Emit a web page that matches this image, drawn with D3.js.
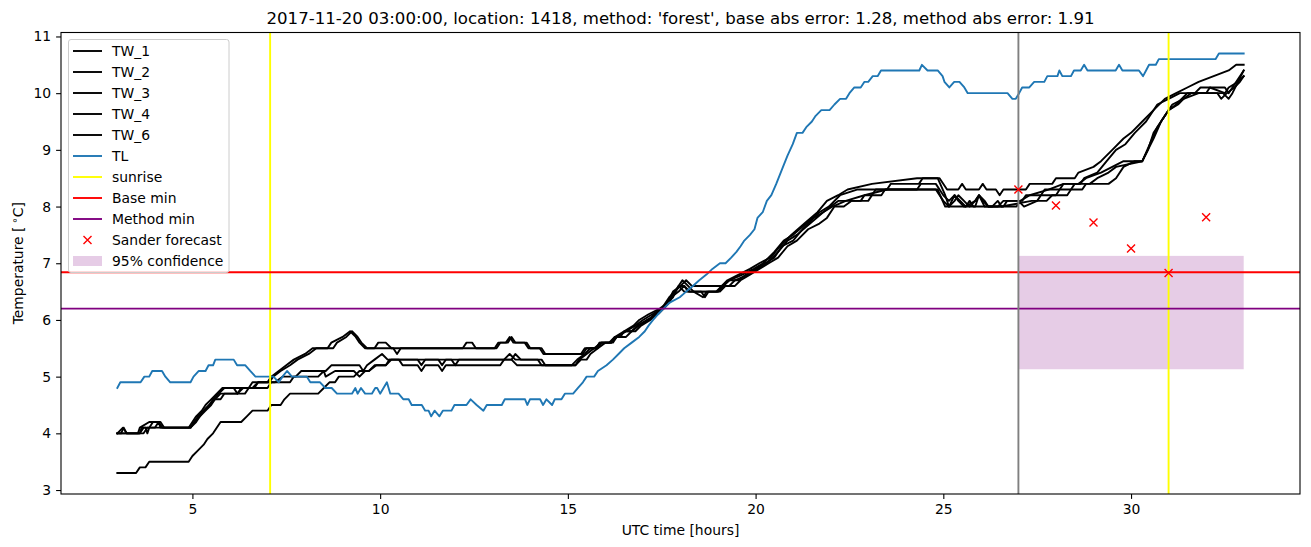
<!DOCTYPE html>
<html>
<head>
<meta charset="utf-8">
<script src="https://cdn.jsdelivr.net/npm/d3@7"></script>
<style>
  body { margin: 0; background: #fff; }
  svg { display: block; font-family: "DejaVu Sans", sans-serif; }
</style>
</head>
<body>
<svg id="chart" width="1311" height="547"></svg>
<script>
// ---------------- DATA ----------------
const titleText = "2017-11-20 03:00:00, location: 1418, method: 'forest', base abs error: 1.28, method abs error: 1.91";
const xTicks = [5, 10, 15, 20, 25, 30];
const yTicks = [3, 4, 5, 6, 7, 8, 9, 10, 11];

const TW_1 = [[3.0,4.0],[3.15,4.1],[3.25,4.0],[3.55,4.0],[3.6,4.1],[3.85,4.2],[4.1,4.2],[4.2,4.1],[4.9,4.1],[5.0,4.2],[5.1,4.3],[5.25,4.4],[5.35,4.5],[5.5,4.6],[5.65,4.7],[5.8,4.8],[6.5,4.8],[6.6,4.9],[7.0,4.9],[7.1,5.0],[7.3,5.1],[7.5,5.2],[7.7,5.3],[8.0,5.4],[8.2,5.5],[8.6,5.5],[8.7,5.6],[9.0,5.7],[9.2,5.8],[9.35,5.7],[9.45,5.6],[9.6,5.5],[9.85,5.5],[9.95,5.6],[10.15,5.6],[10.3,5.5],[12.2,5.5],[12.3,5.6],[12.45,5.6],[12.55,5.5],[13.05,5.5],[13.15,5.6],[13.35,5.6],[13.45,5.7],[13.55,5.6],[13.85,5.6],[13.95,5.5],[14.25,5.5],[14.35,5.4],[15.35,5.4],[15.45,5.5],[15.75,5.5],[15.85,5.6],[16.1,5.6],[16.25,5.7],[16.5,5.8],[16.75,5.9],[16.9,6.0],[17.15,6.1],[17.45,6.2],[17.65,6.3],[17.8,6.5],[18.0,6.6],[18.15,6.7],[18.3,6.6],[19.1,6.6],[19.25,6.7],[19.55,6.8],[19.85,6.9],[20.1,7.0],[20.4,7.1],[20.65,7.3],[20.95,7.5],[21.3,7.7],[21.65,7.9],[21.9,8.1],[22.2,8.2],[22.45,8.3],[23.1,8.4],[24.3,8.5],[24.9,8.5],[25.1,8.3],[25.4,8.3],[25.5,8.4],[25.6,8.3],[25.95,8.3],[26.05,8.4],[26.15,8.3],[26.4,8.3],[26.5,8.2],[26.6,8.3],[27.2,8.3],[27.3,8.4],[27.9,8.4],[28.0,8.5],[28.5,8.5],[28.6,8.6],[29.0,8.7],[29.2,8.8],[29.5,9.0],[29.8,9.2],[30.0,9.3],[30.3,9.5],[30.6,9.7],[30.9,9.9],[31.2,10.0],[31.5,10.1],[31.8,10.2],[32.2,10.3],[32.6,10.4],[32.8,10.5],[33.0,10.5]];
const TW_2 = [[3.0,4.0],[3.6,4.0],[3.7,4.1],[3.85,4.1],[3.95,4.2],[4.15,4.2],[4.25,4.1],[4.95,4.1],[5.05,4.2],[5.2,4.3],[5.3,4.4],[5.45,4.5],[5.55,4.6],[5.7,4.7],[5.85,4.8],[6.1,4.8],[6.2,4.7],[6.3,4.8],[6.65,4.8],[6.75,4.9],[7.05,4.9],[7.15,5.0],[7.35,5.1],[7.6,5.2],[7.8,5.3],[8.1,5.4],[8.3,5.5],[8.75,5.5],[8.85,5.6],[9.1,5.7],[9.25,5.8],[9.4,5.7],[9.5,5.6],[9.65,5.5],[10.35,5.5],[10.45,5.4],[10.55,5.5],[13.1,5.5],[13.2,5.6],[13.4,5.6],[13.5,5.7],[13.6,5.6],[13.9,5.6],[14.0,5.5],[14.3,5.5],[14.4,5.4],[15.4,5.4],[15.5,5.5],[15.8,5.5],[15.9,5.6],[16.15,5.6],[16.3,5.7],[16.55,5.8],[16.8,5.9],[17.0,6.0],[17.25,6.1],[17.5,6.2],[17.7,6.4],[17.85,6.5],[18.05,6.7],[18.2,6.6],[18.35,6.5],[18.6,6.4],[18.7,6.5],[19.0,6.5],[19.15,6.6],[19.3,6.7],[19.65,6.8],[19.95,6.9],[20.2,7.0],[20.5,7.2],[20.75,7.4],[21.0,7.5],[21.35,7.7],[21.7,7.9],[21.95,8.0],[22.25,8.2],[22.7,8.3],[23.5,8.3],[23.6,8.4],[24.35,8.4],[24.45,8.5],[24.85,8.5],[25.05,8.2],[25.15,8.0],[25.3,8.1],[25.4,8.2],[25.55,8.1],[25.7,8.0],[25.85,8.1],[25.95,8.2],[26.1,8.1],[26.2,8.0],[26.6,8.0],[26.7,8.1],[27.1,8.1],[27.2,8.2],[27.6,8.2],[27.7,8.3],[28.1,8.3],[28.2,8.4],[28.65,8.4],[28.75,8.5],[29.1,8.6],[29.35,8.8],[29.6,9.0],[29.85,9.1],[30.1,9.3],[30.4,9.5],[30.7,9.8],[31.0,9.9],[31.3,10.0],[31.7,10.0],[31.85,10.1],[32.5,10.1],[32.6,10.0],[32.7,10.1],[32.9,10.3],[33.0,10.4]];
const TW_3 = [[3.0,4.0],[3.1,4.0],[3.17,4.1],[3.25,4.0],[3.7,4.0],[3.8,4.1],[4.0,4.1],[4.1,4.2],[4.15,4.1],[4.95,4.1],[5.05,4.2],[5.15,4.3],[5.3,4.4],[5.45,4.5],[5.6,4.6],[5.75,4.7],[6.2,4.7],[6.35,4.8],[6.6,4.8],[6.75,4.9],[7.2,4.9],[7.4,5.0],[7.75,5.0],[7.9,5.1],[8.55,5.1],[8.7,5.2],[9.45,5.2],[9.55,5.1],[9.65,5.2],[9.85,5.3],[10.05,5.4],[10.2,5.3],[11.0,5.3],[11.1,5.2],[11.2,5.3],[11.55,5.3],[11.65,5.2],[11.75,5.3],[13.3,5.3],[13.45,5.4],[13.6,5.3],[14.3,5.3],[14.4,5.2],[15.2,5.2],[15.3,5.3],[15.5,5.4],[15.7,5.5],[15.9,5.6],[16.2,5.6],[16.3,5.7],[16.55,5.8],[16.7,5.8],[16.85,5.9],[17.1,6.0],[17.4,6.1],[17.55,6.2],[17.75,6.4],[17.95,6.5],[18.1,6.6],[18.25,6.5],[19.0,6.5],[19.1,6.6],[19.3,6.6],[19.45,6.7],[19.8,6.8],[20.05,6.9],[20.3,7.0],[20.6,7.2],[20.85,7.4],[21.1,7.5],[21.45,7.7],[21.8,7.9],[22.05,8.0],[22.4,8.1],[22.9,8.2],[23.5,8.3],[24.8,8.3],[25.0,8.1],[25.15,8.0],[25.3,8.2],[25.4,8.1],[25.55,8.0],[25.85,8.0],[25.95,8.2],[26.05,8.1],[26.2,8.0],[26.95,8.0],[27.05,8.1],[27.3,8.2],[27.8,8.3],[28.2,8.4],[28.6,8.4],[28.8,8.5],[29.2,8.6],[29.5,8.7],[29.8,8.8],[30.3,8.8],[30.5,9.1],[30.7,9.4],[30.9,9.6],[31.1,9.8],[31.4,9.9],[31.8,10.0],[32.0,10.0],[32.1,10.1],[32.5,10.0],[32.6,10.1],[32.85,10.2],[33.0,10.3]];
const TW_4 = [[3.0,4.0],[3.6,4.0],[3.65,4.1],[3.75,4.1],[3.8,4.0],[3.85,4.1],[4.95,4.1],[5.1,4.2],[5.2,4.3],[5.35,4.4],[5.5,4.5],[5.6,4.6],[5.75,4.6],[5.85,4.7],[6.4,4.7],[6.5,4.8],[7.0,4.8],[7.1,4.9],[7.6,4.9],[7.7,5.0],[8.35,5.0],[8.5,5.1],[8.55,5.0],[8.8,5.1],[9.3,5.1],[9.45,5.0],[9.6,5.1],[9.7,5.1],[9.9,5.2],[10.15,5.2],[10.3,5.3],[10.5,5.3],[10.6,5.2],[11.0,5.2],[11.1,5.1],[11.2,5.2],[11.55,5.2],[11.65,5.1],[11.75,5.2],[13.2,5.2],[13.3,5.3],[13.5,5.3],[13.65,5.2],[15.1,5.2],[15.25,5.3],[15.45,5.4],[15.6,5.5],[15.75,5.5],[15.85,5.6],[16.15,5.6],[16.25,5.7],[16.4,5.7],[16.5,5.8],[16.8,5.8],[16.95,5.9],[17.2,6.0],[17.35,6.1],[17.55,6.2],[17.7,6.3],[17.85,6.5],[18.0,6.6],[18.1,6.6],[18.2,6.5],[18.55,6.5],[18.65,6.4],[18.75,6.5],[19.05,6.5],[19.2,6.6],[19.45,6.6],[19.6,6.7],[19.85,6.8],[20.1,6.9],[20.35,7.0],[20.6,7.1],[20.85,7.3],[21.1,7.4],[21.4,7.6],[21.7,7.7],[21.9,7.8],[22.1,8.0],[22.35,8.0],[22.55,8.1],[23.0,8.1],[23.2,8.3],[24.3,8.3],[24.4,8.4],[24.8,8.4],[25.0,8.2],[25.15,8.1],[25.3,8.2],[25.45,8.1],[25.6,8.0],[25.85,8.1],[25.95,8.2],[26.1,8.0],[26.45,8.0],[26.6,8.1],[27.0,8.1],[27.15,8.0],[27.5,8.1],[27.6,8.2],[28.0,8.2],[28.1,8.3],[28.4,8.3],[28.5,8.4],[28.9,8.4],[29.1,8.5],[29.4,8.6],[29.6,8.7],[30.3,8.8],[30.45,9.0],[30.6,9.3],[30.8,9.5],[31.0,9.7],[31.25,9.8],[31.4,9.9],[31.6,10.0],[32.3,10.0],[32.4,9.9],[32.55,10.0],[32.75,10.1],[32.9,10.2],[33.0,10.3]];
const TW_6 = [[3.0,3.3],[3.5,3.3],[3.6,3.4],[3.75,3.4],[3.85,3.5],[4.9,3.5],[5.0,3.6],[5.15,3.7],[5.3,3.8],[5.4,3.9],[5.55,4.0],[5.75,4.2],[6.3,4.2],[6.45,4.3],[6.6,4.4],[7.0,4.4],[7.1,4.5],[7.35,4.5],[7.45,4.6],[7.6,4.7],[8.35,4.7],[8.5,4.8],[8.65,4.9],[8.8,4.9],[8.9,5.0],[9.3,5.0],[9.45,5.1],[9.7,5.1],[9.85,5.2],[10.15,5.2],[10.25,5.3],[11.9,5.3],[12.0,5.2],[12.1,5.3],[13.5,5.3],[13.6,5.4],[13.75,5.3],[14.2,5.3],[14.3,5.2],[15.2,5.2],[15.35,5.3],[15.5,5.3],[15.6,5.4],[15.8,5.5],[16.0,5.6],[16.15,5.6],[16.3,5.7],[16.55,5.7],[16.7,5.8],[16.9,5.9],[17.15,6.0],[17.3,6.1],[17.5,6.2],[17.65,6.3],[17.8,6.4],[17.95,6.6],[18.1,6.5],[18.95,6.5],[19.1,6.6],[19.3,6.7],[19.55,6.7],[19.75,6.8],[20.0,6.9],[20.25,7.0],[20.5,7.1],[20.7,7.3],[21.0,7.4],[21.25,7.6],[21.55,7.8],[21.8,7.9],[22.0,8.0],[22.2,8.1],[22.8,8.1],[22.9,8.2],[23.35,8.2],[23.45,8.3],[24.85,8.3],[25.05,8.0],[25.6,8.0],[25.7,8.1],[25.8,8.0],[26.3,8.0],[26.45,8.1],[26.55,8.0],[27.35,8.1],[27.75,8.1],[27.9,8.2],[28.3,8.2],[28.4,8.3],[28.7,8.3],[28.8,8.4],[29.4,8.4],[29.6,8.5],[29.8,8.7],[30.1,8.8],[30.3,8.8],[30.45,9.0],[30.6,9.2],[30.8,9.5],[31.0,9.7],[31.2,9.8],[31.5,10.0],[32.45,10.0],[32.6,9.9],[32.7,10.0],[32.85,10.2],[33.0,10.4]];
const TL = [[3.0,4.8],[3.08,4.9],[3.62,4.9],[3.72,5.0],[3.85,5.0],[3.93,5.1],[4.19,5.1],[4.28,5.0],[4.41,4.9],[4.95,4.9],[5.03,5.0],[5.17,5.1],[5.35,5.1],[5.43,5.2],[5.55,5.2],[5.61,5.3],[6.1,5.3],[6.19,5.2],[6.41,5.2],[6.54,5.1],[6.68,5.0],[7.16,5.0],[7.3,4.9],[7.4,5.0],[7.52,5.1],[7.65,5.0],[8.05,5.0],[8.14,4.9],[8.4,4.9],[8.54,4.8],[8.71,4.8],[8.85,4.7],[9.25,4.7],[9.34,4.8],[9.4,4.7],[9.49,4.8],[9.6,4.7],[9.78,4.7],[9.87,4.8],[9.92,4.8],[10.0,4.7],[10.18,4.9],[10.27,4.7],[10.49,4.7],[10.62,4.6],[10.76,4.6],[10.84,4.5],[11.11,4.5],[11.2,4.4],[11.29,4.4],[11.36,4.3],[11.45,4.4],[11.58,4.3],[11.67,4.4],[11.9,4.4],[11.98,4.5],[12.3,4.5],[12.41,4.6],[12.57,4.5],[12.75,4.4],[12.84,4.5],[13.24,4.5],[13.32,4.6],[13.86,4.6],[13.92,4.5],[13.99,4.6],[14.26,4.6],[14.34,4.5],[14.43,4.6],[14.58,4.5],[14.65,4.6],[14.83,4.6],[14.92,4.7],[15.14,4.7],[15.27,4.8],[15.4,4.9],[15.5,5.0],[15.7,5.0],[15.8,5.1],[16.03,5.2],[16.2,5.3],[16.35,5.4],[16.5,5.5],[16.7,5.6],[16.9,5.7],[17.05,5.8],[17.15,5.9],[17.27,6.0],[17.4,6.1],[17.55,6.2],[17.7,6.3],[17.98,6.4],[18.15,6.5],[18.33,6.6],[18.5,6.7],[18.69,6.8],[18.85,6.9],[19.05,7.0],[19.2,7.0],[19.35,7.1],[19.49,7.2],[19.6,7.3],[19.7,7.4],[19.85,7.5],[19.97,7.6],[20.05,7.8],[20.19,7.9],[20.3,8.1],[20.42,8.2],[20.55,8.4],[20.73,8.7],[20.85,8.9],[20.99,9.1],[21.1,9.3],[21.25,9.3],[21.35,9.4],[21.5,9.5],[21.6,9.6],[21.75,9.7],[21.97,9.7],[22.1,9.8],[22.25,9.9],[22.41,9.9],[22.5,10.0],[22.63,10.1],[22.8,10.1],[22.9,10.2],[23.0,10.2],[23.12,10.3],[23.25,10.3],[23.34,10.4],[24.36,10.4],[24.43,10.5],[24.58,10.4],[24.85,10.4],[24.98,10.3],[25.03,10.2],[25.16,10.1],[25.29,10.2],[25.43,10.2],[25.56,10.1],[25.65,10.0],[26.71,10.0],[26.84,9.9],[26.93,9.9],[27.02,10.0],[27.1,10.1],[27.29,10.1],[27.42,10.2],[27.69,10.2],[27.77,10.3],[28.04,10.3],[28.09,10.4],[28.17,10.3],[28.4,10.3],[28.48,10.4],[28.66,10.4],[28.75,10.5],[28.84,10.4],[29.59,10.4],[29.68,10.5],[29.77,10.4],[30.21,10.4],[30.32,10.3],[30.4,10.4],[30.48,10.5],[30.66,10.5],[30.74,10.6],[32.25,10.6],[32.34,10.7],[33.0,10.7]];

const twSeries = [["TW_1", TW_1], ["TW_2", TW_2], ["TW_3", TW_3], ["TW_4", TW_4], ["TW_6", TW_6]];
const sunriseHours = [7.07, 31.0];
const forecastStartHour = 27.0;
const baseMin = 6.84;
const methodMin = 6.2;
const forecastHours = [27, 28, 29, 30, 31, 32];
const forecastValues = [8.30, 8.02, 7.72, 7.26, 6.83, 7.81];
const confHours = [27, 33];
const confLow = 5.13;
const confHigh = 7.13;

// ---------------- LAYOUT ----------------
const svg = d3.select("#chart");
const L = 61, R = 1300, T = 32.5, B = 494;
const x = d3.scaleLinear().domain([1.5, 34.5]).range([L, R]);
const y = d3.scaleLinear().domain([2.93, 11.07]).range([B, T]);

const C_TL = "#1f77b4", C_SUN = "#ffff00", C_BASE = "#ff0000", C_METH = "#800080";
const LW = 1.9;
const FS = "13.9px";

svg.append("rect").attr("width", 1311).attr("height", 547).attr("fill", "#fff");

svg.append("defs").append("clipPath").attr("id", "clip")
  .append("rect").attr("x", L).attr("y", T).attr("width", R - L).attr("height", B - T);
const g = svg.append("g").attr("clip-path", "url(#clip)");

// confidence fill (bottom layer)
g.append("rect")
  .attr("x", x(confHours[0])).attr("width", x(confHours[1]) - x(confHours[0]))
  .attr("y", y(confHigh)).attr("height", y(confLow) - y(confHigh))
  .attr("fill", C_METH).attr("fill-opacity", 0.2);

const line = d3.line().x(d => x(d[0])).y(d => y(d[1]));

twSeries.forEach(([name, data]) => {
  g.append("path").datum(data).attr("d", line)
    .attr("fill", "none").attr("stroke", "#000").attr("stroke-width", LW)
    .attr("stroke-linejoin", "round").attr("stroke-linecap", "square");
});
g.append("path").datum(TL).attr("d", line)
  .attr("fill", "none").attr("stroke", C_TL).attr("stroke-width", LW)
  .attr("stroke-linejoin", "round").attr("stroke-linecap", "square");

// sunrise vertical lines
sunriseHours.forEach(h => {
  g.append("line").attr("x1", x(h)).attr("x2", x(h)).attr("y1", T).attr("y2", B)
    .attr("stroke", C_SUN).attr("stroke-width", LW);
});
// base / method min
g.append("line").attr("x1", L).attr("x2", R).attr("y1", y(baseMin)).attr("y2", y(baseMin))
  .attr("stroke", C_BASE).attr("stroke-width", LW);
g.append("line").attr("x1", L).attr("x2", R).attr("y1", y(methodMin)).attr("y2", y(methodMin))
  .attr("stroke", C_METH).attr("stroke-width", LW);
// forecast start
g.append("line").attr("x1", x(forecastStartHour)).attr("x2", x(forecastStartHour)).attr("y1", T).attr("y2", B)
  .attr("stroke", "#808080").attr("stroke-width", LW);

// forecast markers
const mk = 4;
function xMarker(sel, cx, cy) {
  sel.append("path")
    .attr("d", `M${cx - mk},${cy - mk}L${cx + mk},${cy + mk}M${cx - mk},${cy + mk}L${cx + mk},${cy - mk}`)
    .attr("stroke", C_BASE).attr("stroke-width", 1.4).attr("fill", "none");
}
forecastHours.forEach((h, i) => xMarker(g, x(h), y(forecastValues[i])));

// ---------------- AXES ----------------
const xAxis = d3.axisBottom(x).tickValues(xTicks).tickSize(4.9).tickPadding(4.9).tickFormat(d3.format("d"));
const yAxis = d3.axisLeft(y).tickValues(yTicks).tickSize(4.9).tickPadding(4.9).tickFormat(d3.format("d"));
const gx = svg.append("g").attr("transform", `translate(0,${B})`).call(xAxis);
const gy = svg.append("g").attr("transform", `translate(${L},0)`).call(yAxis);
[gx, gy].forEach(a => {
  a.select(".domain").remove();
  a.selectAll(".tick line").attr("stroke", "#000").attr("stroke-width", 1.1);
  a.selectAll(".tick text").attr("fill", "#000").style("font-size", FS).style("font-family", "DejaVu Sans");
});
// frame
svg.append("rect").attr("x", L).attr("y", T).attr("width", R - L).attr("height", B - T)
  .attr("fill", "none").attr("stroke", "#000").attr("stroke-width", 1.1);

// title & labels
svg.append("text").attr("x", (L + R) / 2).attr("y", 24).attr("text-anchor", "middle")
  .style("font-size", "16.6px").text(titleText);
svg.append("text").attr("x", (L + R) / 2).attr("y", 535).attr("text-anchor", "middle")
  .style("font-size", FS).text("UTC time [hours]");
const yl = svg.append("text").attr("transform", `translate(23,${(T + B) / 2}) rotate(-90)`)
  .attr("text-anchor", "middle").style("font-size", FS);
yl.append("tspan").text("Temperature [");
yl.append("tspan").attr("dx", 3).attr("dy", -5).style("font-size", "10px").text("\u2218");
yl.append("tspan").attr("dy", 5).text("C]");

// ---------------- LEGEND ----------------
const legendItems = [
  { label: "TW_1", type: "line", color: "#000" },
  { label: "TW_2", type: "line", color: "#000" },
  { label: "TW_3", type: "line", color: "#000" },
  { label: "TW_4", type: "line", color: "#000" },
  { label: "TW_6", type: "line", color: "#000" },
  { label: "TL", type: "line", color: C_TL },
  { label: "sunrise", type: "line", color: C_SUN },
  { label: "Base min", type: "line", color: C_BASE },
  { label: "Method min", type: "line", color: C_METH },
  { label: "Sander forecast", type: "marker", color: C_BASE },
  { label: "95% confidence", type: "patch", color: C_METH }
];
const lg = svg.append("g");
lg.append("rect").attr("x", 68.5).attr("y", 39.5).attr("width", 160.5).attr("height", 233)
  .attr("rx", 2.5).attr("fill", "#fff").attr("fill-opacity", 0.8)
  .attr("stroke", "#cccccc").attr("stroke-width", 1);
legendItems.forEach((it, i) => {
  const cy = 51 + i * 21;
  if (it.type === "line") {
    lg.append("line").attr("x1", 73).attr("x2", 102).attr("y1", cy).attr("y2", cy)
      .attr("stroke", it.color).attr("stroke-width", LW);
  } else if (it.type === "marker") {
    xMarker(lg, 87.5, cy);
  } else {
    lg.append("rect").attr("x", 73).attr("y", cy - 5).attr("width", 29).attr("height", 10)
      .attr("fill", it.color).attr("fill-opacity", 0.2);
  }
  lg.append("text").attr("x", 112).attr("y", cy + 5).style("font-size", FS).text(it.label);
});
</script>
</body>
</html>
